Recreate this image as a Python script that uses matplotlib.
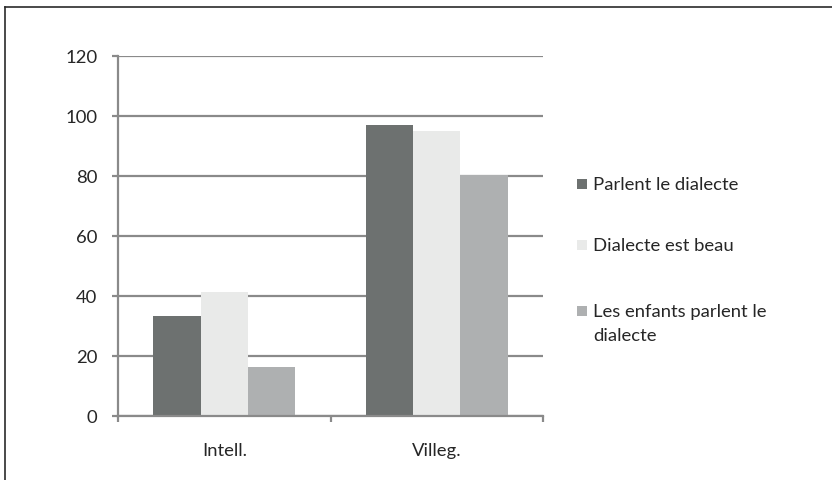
import textwrap
import matplotlib
matplotlib.use("Agg")
import matplotlib.pyplot as plt
from matplotlib.lines import Line2D
from matplotlib.patches import Rectangle

categories = ["Intell.", "Villeg."]
series_names = ["Parlent le dialecte", "Dialecte est beau", "Les enfants parlent le dialecte"]
parlent = [33.4, 97.1]
beau = [41.2, 95.0]
enfants = [16.2, 80.2]
y_ticks = [0, 20, 40, 60, 80, 100, 120]

values = [parlent, beau, enfants]
colors = ["#6d7170", "#e9eae9", "#aeb0b1"]
grid_color = "#8a8a8a"
text_color = "#262626"
font_size = 13.3

plt.rcParams["font.family"] = ["Lato", "DejaVu Sans"]

W, H = 832, 481
fig = plt.figure(figsize=(W / 100, H / 100), dpi=100)
fig.patch.set_facecolor("white")

ax = fig.add_axes([118 / W, (H - 417) / H, (543 - 118) / W, (417 - 57) / H])

bar_w = 0.222
for i, (vals, col) in enumerate(zip(values, colors)):
    xs = [k + (i - 1) * bar_w for k in range(len(categories))]
    ax.bar(xs, vals, width=bar_w, color=col, edgecolor="none", zorder=3)

ax.set_xlim(-0.5, len(categories) - 0.5)
ax.set_ylim(0, 120)
ax.set_yticks(y_ticks)
ax.set_yticklabels([str(v) for v in y_ticks])
ax.yaxis.grid(True, color=grid_color, linewidth=1.6, zorder=0)
ax.set_axisbelow(True)

ax.set_xticks(range(len(categories)))
ax.set_xticklabels(categories)
ax.set_xticks([-0.5, 0.5, 1.5], minor=True)
ax.tick_params(axis="x", which="major", length=0, pad=18.5, labelsize=font_size, labelcolor=text_color)
ax.tick_params(axis="x", which="minor", length=4.3, width=1.6, color=grid_color, direction="out")
ax.tick_params(axis="y", length=4.3, width=1.6, color=grid_color, pad=10.5, labelsize=font_size,
               labelcolor=text_color)

for side in ("top", "right"):
    ax.spines[side].set_visible(False)
for side in ("left", "bottom"):
    ax.spines[side].set_color(grid_color)
    ax.spines[side].set_linewidth(1.6)
ax.spines["bottom"].set_zorder(4)

# Legend drawn as swatches and labels to the right of the plot
legend_rows = [185, 246, 312]
line_step = 24
for name, col, yc in zip(series_names, colors, legend_rows):
    fig.patches.append(Rectangle((577 / W, (H - yc - 5) / H), 10 / W, 10 / H,
                                 transform=fig.transFigure, facecolor=col, edgecolor="none"))
    for j, line in enumerate(textwrap.wrap(name, 22)):
        fig.text(593 / W, (H - yc - j * line_step) / H, line, ha="left", va="center",
                 fontsize=font_size, color=text_color, transform=fig.transFigure)

# Frame around the chart area
fig.add_artist(Line2D([4.5 / W, 1], [1 - 8 / H, 1 - 8 / H], color="#2b2b2b", linewidth=1.2,
                      transform=fig.transFigure))
fig.add_artist(Line2D([4.5 / W, 4.5 / W], [0, 1 - 8 / H], color="#2b2b2b", linewidth=1.2,
                      transform=fig.transFigure))

fig.savefig("out.png", dpi=100)
